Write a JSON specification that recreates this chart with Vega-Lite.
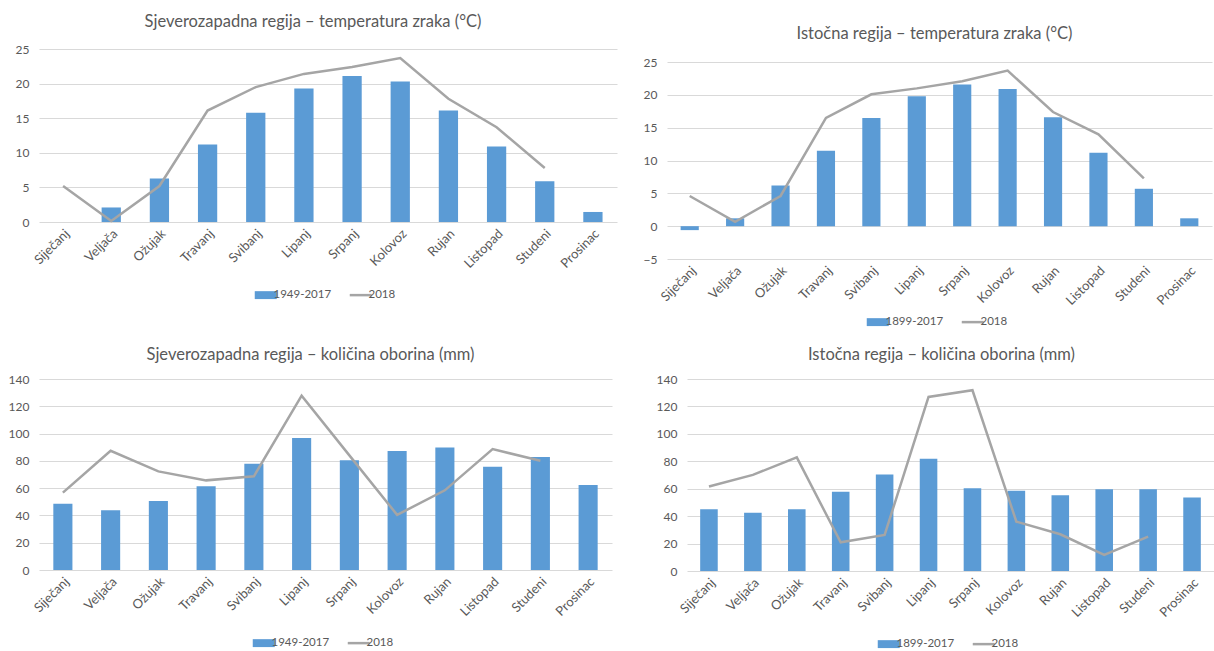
{
  "$schema": "https://vega.github.io/schema/vega-lite/v6.json",
  "background": "white",
  "padding": {"left": 8, "top": 13, "right": 0, "bottom": 0},
  "config": {
    "view": {"stroke": null},
    "font": "Lato",
    "axis": {"labelColor": "#595959", "labelFontSize": 12, "gridColor": "#D9D9D9", "gridWidth": 1.2, "domain": false, "ticks": false},
    "axisX": {"labelFontSize": 13},
    "title": {"fontSize": 16.5, "fontWeight": "normal", "color": "#595959"},
    "legend": {"orient": "bottom", "direction": "horizontal", "title": null, "labelFontSize": 11.5, "labelColor": "#595959", "symbolSize": 484, "columnPadding": 12, "labelOffset": 2, "layout": {"bottom": {"anchor": "middle"}}}
  },
  "resolve": {"scale": {"color": "independent"}, "legend": {"color": "independent"}},
  "spacing": 18,
  "vconcat": [
    {
      "hconcat": [
        {
          "width": 578, "height": 173,
          "title": {"text": "Sjeverozapadna regija – temperatura zraka (°C)", "offset": 13, "dx": -15},
          "data": {"values": [
            {"m": "Siječanj", "a": 0, "b": 5.2},
            {"m": "Veljača", "a": 2.1, "b": 0.15},
            {"m": "Ožujak", "a": 6.3, "b": 5.2},
            {"m": "Travanj", "a": 11.2, "b": 16.1},
            {"m": "Svibanj", "a": 15.8, "b": 19.5},
            {"m": "Lipanj", "a": 19.3, "b": 21.4},
            {"m": "Srpanj", "a": 21.1, "b": 22.4},
            {"m": "Kolovoz", "a": 20.3, "b": 23.7},
            {"m": "Rujan", "a": 16.1, "b": 17.8},
            {"m": "Listopad", "a": 10.9, "b": 13.7},
            {"m": "Studeni", "a": 5.9, "b": 7.8},
            {"m": "Prosinac", "a": 1.45, "b": null}
          ]},
          "encoding": {"x": {"field": "m", "type": "nominal", "scale": {"domain": ["Siječanj","Veljača","Ožujak","Travanj","Svibanj","Lipanj","Srpanj","Kolovoz","Rujan","Listopad","Studeni","Prosinac"], "paddingInner": 0.6, "paddingOuter": 0.3}, "axis": {"title": null, "labelAngle": -45, "grid": false, "labelPadding": 5}}},
          "layer": [
            {"mark": {"type": "bar", "color": "#5B9BD5"},
             "encoding": {
               "y": {"field": "a", "type": "quantitative", "scale": {"domain": [0, 25], "nice": false}, "axis": {"title": null, "values": [0,5,10,15,20,25], "labelPadding": 10, "labelOverlap": false}},
               "color": {"datum": "1949-2017", "scale": {"domain": ["1949-2017", "2018"], "range": ["#5B9BD5", "#A5A5A5"]},
                 "legend": {"offset": 18, "encode": {"symbols": {"update": {
                   "shape": {"signal": "datum.value === '2018' ? 'M-1,0H1' : 'M-1,-0.36H1V0.36H-1Z'"},
                   "fill": {"signal": "datum.value === '2018' ? 'transparent' : '#5B9BD5'"},
                   "stroke": {"signal": "datum.value === '2018' ? '#A5A5A5' : '#5B9BD5'"},
                   "strokeWidth": {"signal": "datum.value === '2018' ? 2.5 : 0"}}}}}}}},
            {"mark": {"type": "line", "strokeWidth": 2.5, "color": "#A5A5A5"},
             "encoding": {"y": {"field": "b", "type": "quantitative", "axis": {"title": null, "values": [0,5,10,15,20,25], "labelPadding": 10, "labelOverlap": false}}, "color": {"datum": "2018"}}}
          ]
        },
        {
          "width": 545, "height": 210,
          "title": {"text": "Istočna regija – temperatura zraka (°C)", "offset": 7, "dx": -5},
          "data": {"values": [
            {"m": "Siječanj", "a": -0.6, "b": 4.6},
            {"m": "Veljača", "a": 1.2, "b": 0.66},
            {"m": "Ožujak", "a": 6.2, "b": 4.6},
            {"m": "Travanj", "a": 11.5, "b": 16.5},
            {"m": "Svibanj", "a": 16.5, "b": 20.1},
            {"m": "Lipanj", "a": 19.8, "b": 21.0},
            {"m": "Srpanj", "a": 21.6, "b": 22.1},
            {"m": "Kolovoz", "a": 20.9, "b": 23.7},
            {"m": "Rujan", "a": 16.6, "b": 17.4},
            {"m": "Listopad", "a": 11.2, "b": 14.0},
            {"m": "Studeni", "a": 5.7, "b": 7.3},
            {"m": "Prosinac", "a": 1.2, "b": null}
          ]},
          "encoding": {"x": {"field": "m", "type": "nominal", "scale": {"domain": ["Siječanj","Veljača","Ožujak","Travanj","Svibanj","Lipanj","Srpanj","Kolovoz","Rujan","Listopad","Studeni","Prosinac"], "paddingInner": 0.6, "paddingOuter": 0.3}, "axis": {"title": null, "labelAngle": -45, "grid": false, "labelPadding": 5}}},
          "layer": [
            {"mark": {"type": "bar", "color": "#5B9BD5"},
             "encoding": {
               "y": {"field": "a", "type": "quantitative", "scale": {"domain": [-5, 27], "nice": false}, "axis": {"title": null, "values": [-5,0,5,10,15,20,25], "labelPadding": 10, "labelOverlap": false}},
               "color": {"datum": "1899-2017", "scale": {"domain": ["1899-2017", "2018"], "range": ["#5B9BD5", "#A5A5A5"]},
                 "legend": {"offset": 8, "encode": {"symbols": {"update": {
                   "shape": {"signal": "datum.value === '2018' ? 'M-1,0H1' : 'M-1,-0.36H1V0.36H-1Z'"},
                   "fill": {"signal": "datum.value === '2018' ? 'transparent' : '#5B9BD5'"},
                   "stroke": {"signal": "datum.value === '2018' ? '#A5A5A5' : '#5B9BD5'"},
                   "strokeWidth": {"signal": "datum.value === '2018' ? 2.5 : 0"}}}}}}}},
            {"mark": {"type": "line", "strokeWidth": 2.5, "color": "#A5A5A5"},
             "encoding": {"y": {"field": "b", "type": "quantitative", "axis": {"title": null, "values": [-5,0,5,10,15,20,25], "labelPadding": 10, "labelOverlap": false}}, "color": {"datum": "2018"}}}
          ]
        }
      ],
      "spacing": 26,
      "resolve": {"scale": {"color": "independent"}, "legend": {"color": "independent"}}
    },
    {
      "hconcat": [
        {
          "width": 573, "height": 191,
          "title": {"text": "Sjeverozapadna regija – količina oborina (mm)", "offset": 10, "dx": -15},
          "data": {"values": [
            {"m": "Siječanj", "a": 48.5, "b": 56.7},
            {"m": "Veljača", "a": 43.8, "b": 87.4},
            {"m": "Ožujak", "a": 50.6, "b": 72.3},
            {"m": "Travanj", "a": 61.4, "b": 65.7},
            {"m": "Svibanj", "a": 77.9, "b": 68.7},
            {"m": "Lipanj", "a": 96.7, "b": 127.8},
            {"m": "Srpanj", "a": 80.4, "b": 84},
            {"m": "Kolovoz", "a": 87.2, "b": 40.4},
            {"m": "Rujan", "a": 89.8, "b": 58.4},
            {"m": "Listopad", "a": 75.7, "b": 88.6},
            {"m": "Studeni", "a": 82.8, "b": 80.1},
            {"m": "Prosinac", "a": 62.3, "b": null}
          ]},
          "encoding": {"x": {"field": "m", "type": "nominal", "scale": {"domain": ["Siječanj","Veljača","Ožujak","Travanj","Svibanj","Lipanj","Srpanj","Kolovoz","Rujan","Listopad","Studeni","Prosinac"], "paddingInner": 0.6, "paddingOuter": 0.3}, "axis": {"title": null, "labelAngle": -45, "grid": false, "labelPadding": 5}}},
          "layer": [
            {"mark": {"type": "bar", "color": "#5B9BD5"},
             "encoding": {
               "y": {"field": "a", "type": "quantitative", "scale": {"domain": [0, 140], "nice": false}, "axis": {"title": null, "values": [0,20,40,60,80,100,120,140], "labelPadding": 10, "labelOverlap": false}},
               "color": {"datum": "1949-2017", "scale": {"domain": ["1949-2017", "2018"], "range": ["#5B9BD5", "#A5A5A5"]},
                 "legend": {"offset": 18, "encode": {"symbols": {"update": {
                   "shape": {"signal": "datum.value === '2018' ? 'M-1,0H1' : 'M-1,-0.36H1V0.36H-1Z'"},
                   "fill": {"signal": "datum.value === '2018' ? 'transparent' : '#5B9BD5'"},
                   "stroke": {"signal": "datum.value === '2018' ? '#A5A5A5' : '#5B9BD5'"},
                   "strokeWidth": {"signal": "datum.value === '2018' ? 2.5 : 0"}}}}}}}},
            {"mark": {"type": "line", "strokeWidth": 2.5, "color": "#A5A5A5"},
             "encoding": {"y": {"field": "b", "type": "quantitative", "axis": {"title": null, "values": [0,20,40,60,80,100,120,140], "labelPadding": 10, "labelOverlap": false}}, "color": {"datum": "2018"}}}
          ]
        },
        {
          "width": 527, "height": 192,
          "title": {"text": "Istočna regija – količina oborina (mm)", "offset": 10, "dx": -9},
          "data": {"values": [
            {"m": "Siječanj", "a": 45.0, "b": 61.6},
            {"m": "Veljača", "a": 42.4, "b": 70.1},
            {"m": "Ožujak", "a": 45.0, "b": 82.8},
            {"m": "Travanj", "a": 57.7, "b": 20.9},
            {"m": "Svibanj", "a": 70.4, "b": 26.3},
            {"m": "Lipanj", "a": 81.8, "b": 126.9},
            {"m": "Srpanj", "a": 60.4, "b": 131.8},
            {"m": "Kolovoz", "a": 58.5, "b": 36.0},
            {"m": "Rujan", "a": 55.3, "b": 26.8},
            {"m": "Listopad", "a": 59.7, "b": 11.7},
            {"m": "Studeni", "a": 59.7, "b": 25.1},
            {"m": "Prosinac", "a": 53.6, "b": null}
          ]},
          "encoding": {"x": {"field": "m", "type": "nominal", "scale": {"domain": ["Siječanj","Veljača","Ožujak","Travanj","Svibanj","Lipanj","Srpanj","Kolovoz","Rujan","Listopad","Studeni","Prosinac"], "paddingInner": 0.6, "paddingOuter": 0.3}, "axis": {"title": null, "labelAngle": -45, "grid": false, "labelPadding": 5}}},
          "layer": [
            {"mark": {"type": "bar", "color": "#5B9BD5"},
             "encoding": {
               "y": {"field": "a", "type": "quantitative", "scale": {"domain": [0, 140], "nice": false}, "axis": {"title": null, "values": [0,20,40,60,80,100,120,140], "labelPadding": 10, "labelOverlap": false}},
               "color": {"datum": "1899-2017", "scale": {"domain": ["1899-2017", "2018"], "range": ["#5B9BD5", "#A5A5A5"]},
                 "legend": {"offset": 18, "encode": {"symbols": {"update": {
                   "shape": {"signal": "datum.value === '2018' ? 'M-1,0H1' : 'M-1,-0.36H1V0.36H-1Z'"},
                   "fill": {"signal": "datum.value === '2018' ? 'transparent' : '#5B9BD5'"},
                   "stroke": {"signal": "datum.value === '2018' ? '#A5A5A5' : '#5B9BD5'"},
                   "strokeWidth": {"signal": "datum.value === '2018' ? 2.5 : 0"}}}}}}}},
            {"mark": {"type": "line", "strokeWidth": 2.5, "color": "#A5A5A5"},
             "encoding": {"y": {"field": "b", "type": "quantitative", "axis": {"title": null, "values": [0,20,40,60,80,100,120,140], "labelPadding": 10, "labelOverlap": false}}, "color": {"datum": "2018"}}}
          ]
        }
      ],
      "spacing": 44,
      "resolve": {"scale": {"color": "independent"}, "legend": {"color": "independent"}}
    }
  ]
}
